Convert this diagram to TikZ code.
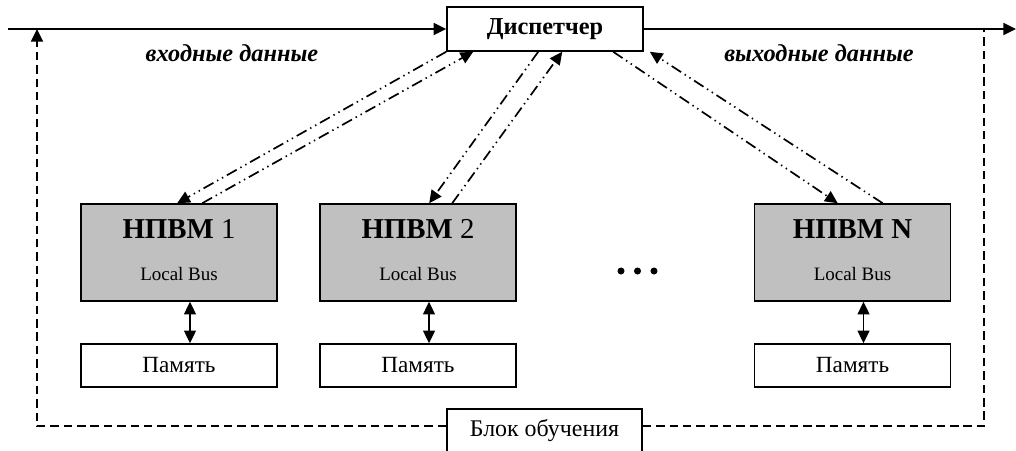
\documentclass[tikz,border=0pt]{standalone}
\usepackage{fontspec}
\setmainfont{Liberation Serif}
\usetikzlibrary{positioning,calc,arrows.meta}
\definecolor{cpugray}{RGB}{192,192,192}

\begin{document}
\begin{tikzpicture}[x=0.025cm,y=-0.025cm,
		box/.style={draw,line width=1.1pt,minimum width=4.9cm,inner sep=0pt},
		cpu/.style={box,fill=cpugray,minimum height=2.425cm},
		mem/.style={box,minimum height=1.075cm,font=\fontsize{16.5}{18}\selectfont},
		title/.style={font=\fontsize{20.5}{22}\selectfont},
		bus/.style={font=\fontsize{13.5}{15}\selectfont},
		note/.style={font=\fontsize{17.3}{19}\selectfont\bfseries\itshape},
		head/.style={Triangle[length=9pt,width=8.5pt]},
		tip/.style={-{Triangle[length=9pt,width=8.5pt]}},
		ctrl/.style={tip,line width=1.2pt,dash pattern=on 8pt off 3pt on 1pt off 3pt on 1pt off 3pt},
		fb/.style={line width=1.2pt,dash pattern=on 6pt off 3.5pt}]
		\useasboundingbox (0,0) rectangle (1016,450);
		% dispatcher on the data line
		\node[box,minimum height=1.1cm,font=\fontsize{17.3}{19}\selectfont\bfseries] (disp) at (545,29) {Диспетчер};
		\coordinate (in) at (8,29);
		\coordinate (out) at (1016,29);
		\draw[tip,line width=1.4pt] (in) -- (disp.west);
		\draw[tip,line width=1.4pt] (disp.east) -- (out);
		\node[note] (inlbl) at (232,53) {входные данные};
		\node[note] (outlbl) at (819,53) {выходные данные};
		% processor modules with their memory
		\foreach \i/\x/\lbl in {1/179/1,2/418/2,N/852.5/\textbf{N}}{
			\node[cpu] (n\i) at (\x,252.5) {};
			\node[title] (t\i) at ($(n\i.north)+(0,26)$) {\textbf{НПВМ} \lbl};
			\node[bus] (b\i) at ($(n\i.north)+(0,71)$) {Local Bus};
			\node[mem] (m\i) at (\x,365.5) {Память};
			\draw[{Triangle[length=9pt,width=8.5pt]}-{Triangle[length=9pt,width=8.5pt]},line width=1.1pt]
				($(n\i.south)+(11,0)$) -- ($(m\i.north)+(11,0)$);
		}
		\foreach \x in {621,637.5,654}
			\fill (\x,271) circle[radius=2.5pt];
		% control links
		\draw[ctrl] (disp.south west) -- ($(n1.north west)+(97,0)$);
		\draw[ctrl] ($(n1.north west)+(122,0)$) -- ($(disp.south west)+(27,0)$);
		\draw[ctrl] ($(disp.south west)+(92,0)$) -- ($(n2.north west)+(110,0)$);
		\draw[ctrl] ($(n2.north west)+(133,0)$) -- ($(disp.south west)+(116,0)$);
		\draw[ctrl] ($(disp.south west)+(167,0)$) -- ($(nN.north west)+(84,0)$);
		\draw[ctrl] ($(nN.north west)+(129,0)$) -- ($(disp.south east)+(6,0)$);
		% learning block and feedback loop
		\node[box,minimum width=4.875cm,minimum height=1.1cm,font=\fontsize{17}{19}\selectfont] (learn) at (544.5,431) {Блок обучения};
		\coordinate (fb1) at (37,426);
		\coordinate (fb2) at (984,426);
		\draw[fb,tip] (learn.west |- fb1) -- (fb1) -- (fb1 |- in);
		\draw[fb] (learn.east |- fb2) -- (fb2) -- (fb2 |- out);
\end{tikzpicture}
\end{document}
